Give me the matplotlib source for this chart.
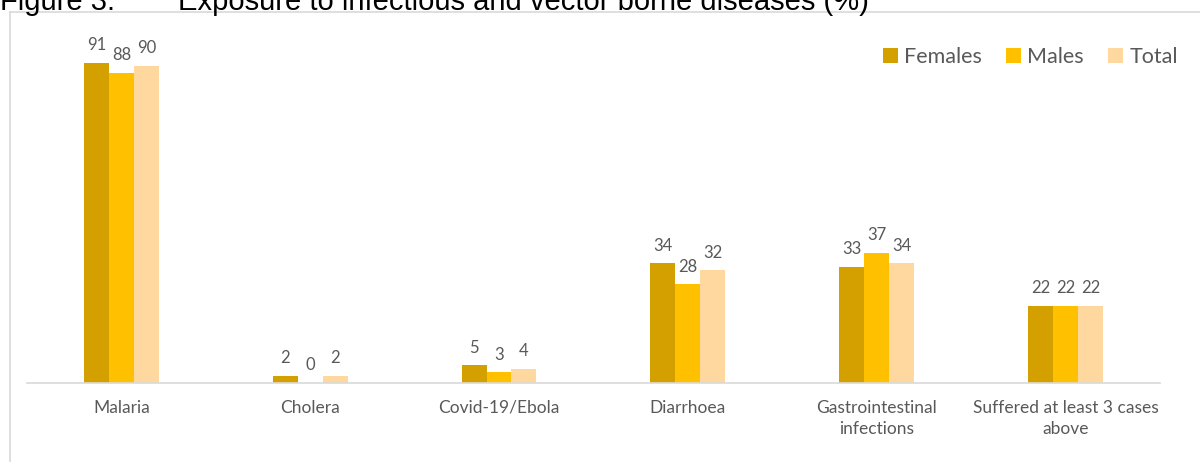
import matplotlib.pyplot as plt
import numpy as np
from matplotlib.lines import Line2D

categories = ["Malaria", "Cholera", "Covid-19/Ebola", "Diarrhoea",
              "Gastrointestinal\ninfections", "Suffered at least 3 cases\nabove"]
females = [91, 2, 5, 34, 33, 22]
males = [88, 0, 3, 28, 37, 22]
total = [90, 2, 4, 32, 34, 22]

series = [("Females", females, "#D4A000"),
          ("Males", males, "#FFC000"),
          ("Total", total, "#FFD8A0")]

plt.rcParams['font.family'] = ['Lato', 'DejaVu Sans']
gray = "#595959"

fig = plt.figure(figsize=(12, 4.62), dpi=100)
ax = fig.add_axes([0.0225, 0.171, 0.944, 0.762])

x = np.arange(len(categories))
w = 0.1323
for i, (name, vals, col) in enumerate(series):
    pos = x + (i - 1) * w
    bars = ax.bar(pos, vals, w, color=col, label=name)
    for b, v in zip(bars, vals):
        ax.annotate(str(v), (b.get_x() + b.get_width() / 2, b.get_height()),
                    xytext=(0, 7), textcoords="offset points",
                    ha="center", va="bottom", fontsize=12, color=gray)

ax.set_xlim(-0.5, len(categories) - 0.5)
ax.set_ylim(0, 100)
ax.set_yticks([])
ax.set_xticks(x)
ax.set_xticklabels(categories, fontsize=12.5, color=gray, linespacing=1.4)
ax.tick_params(axis="x", length=0, pad=12)
for s in ["top", "right", "left"]:
    ax.spines[s].set_visible(False)
ax.spines["bottom"].set_color("#D9D9D9")
ax.spines["bottom"].set_linewidth(1.2)

ax.legend(loc="upper right", bbox_to_anchor=(1.033, 1.01), ncol=3, frameon=False,
          fontsize=15.5, labelcolor=gray, handlelength=0.7, handleheight=0.7,
          handletextpad=0.3, columnspacing=1.1)

# chart border (partly cut by the image edge)
fig.add_artist(Line2D([10 / 1200, 10 / 1200], [0, 1 - 12 / 462],
                      transform=fig.transFigure, color="#D9D9D9", lw=1.2))
fig.add_artist(Line2D([10 / 1200, 1], [1 - 12 / 462, 1 - 12 / 462],
                      transform=fig.transFigure, color="#D9D9D9", lw=1.2))

fig.text(0.0, 1 - 10 / 462, "Figure 3:", family="Liberation Sans", fontsize=21,
         va="baseline", ha="left", color="black")
fig.text(178 / 1200, 1 - 10 / 462, "Exposure to infectious and vector borne diseases (%)",
         family="Liberation Sans", fontsize=21, va="baseline", ha="left", color="black")

fig.savefig("out.png", dpi=100)
